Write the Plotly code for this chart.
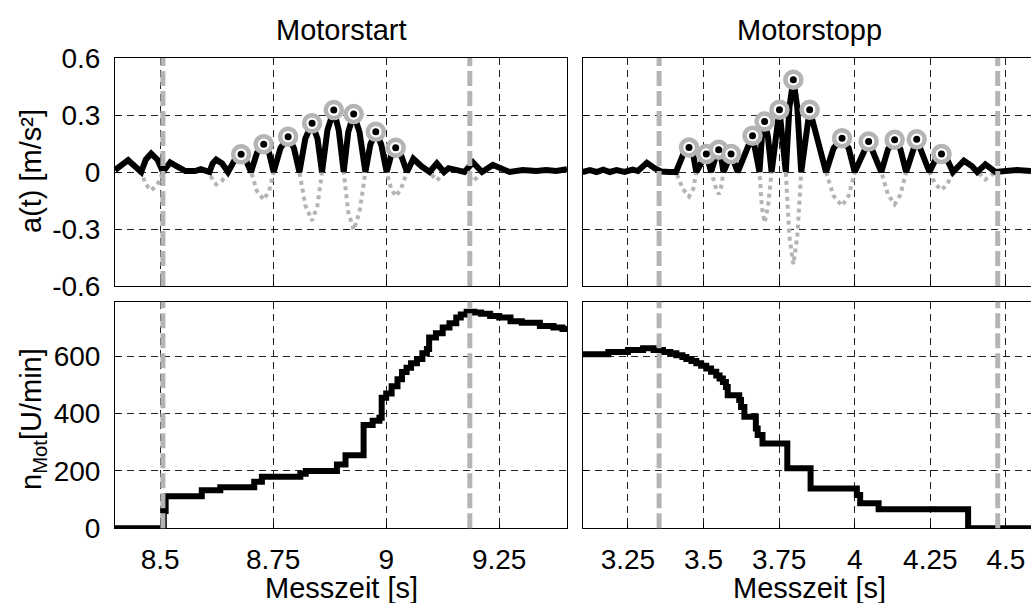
import plotly.graph_objects as go

FONT = "Liberation Sans, Arial, sans-serif"
W, H = 1031, 603

# ---- acceleration a(t) around engine start (signed, m/s²)
start_t = [8.400, 8.429, 8.458, 8.468, 8.480, 8.494, 8.506, 8.522, 8.537, 8.556, 8.577, 8.590, 8.609,
           8.616, 8.624, 8.637, 8.650, 8.664, 8.679, 8.690, 8.701, 8.714, 8.729, 8.741, 8.751,
           8.766, 8.783, 8.796, 8.808, 8.821, 8.836, 8.848, 8.858, 8.870, 8.884, 8.895, 8.906,
           8.916, 8.928, 8.941, 8.954, 8.965, 8.977, 8.989, 9.001, 9.011, 9.021, 9.033, 9.046,
           9.060, 9.078, 9.096, 9.112, 9.128, 9.138, 9.155, 9.173, 9.192, 9.212,
           9.236, 9.254, 9.273, 9.302, 9.332, 9.354, 9.376, 9.400]
start_a = [0.010, 0.062, 0.0, -0.065, -0.097, -0.065, 0.0, 0.050, 0.030, 0.005, 0.005, 0.015, 0.0,
           -0.045, -0.065, -0.045, 0.0, 0.060, 0.093, 0.060, 0.0, -0.100, -0.146, -0.100, 0.0,
           0.125, 0.186, 0.125, 0.0, -0.175, -0.256, -0.175, 0.0, 0.220, 0.326, 0.220, 0.0,
           -0.210, -0.305, -0.210, 0.0, 0.145, 0.212, 0.145, 0.0, -0.088, -0.128, -0.088, 0.0,
           0.070, 0.030, 0.0, -0.045, 0.0, 0.020, 0.010, 0.0, -0.050, 0.0,
           0.037, 0.015, 0.0, 0.010, 0.005, 0.010, 0.005, 0.015]
start_peak_t = [8.679, 8.729, 8.783, 8.836, 8.884, 8.928, 8.977, 9.021]
start_peak_a = [0.093, 0.146, 0.186, 0.256, 0.326, 0.305, 0.212, 0.128]

# ---- acceleration a(t) around engine stop (signed, m/s²)
stop_t = [3.100, 3.124, 3.146, 3.168, 3.190, 3.212, 3.239, 3.266, 3.283, 3.3125, 3.338, 3.360, 3.387, 3.409,
          3.432, 3.452, 3.466, 3.476, 3.509, 3.525, 3.540, 3.550, 3.558, 3.566, 3.591, 3.613,
          3.662, 3.685, 3.693, 3.702, 3.713, 3.725, 3.751, 3.772, 3.784, 3.797, 3.810, 3.823,
          3.851, 3.905, 3.930, 3.958, 3.980, 4.000, 4.046, 4.088, 4.110, 4.132, 4.151, 4.170,
          4.205, 4.247, 4.267, 4.287, 4.306, 4.325,
          4.361, 4.388, 4.405, 4.432, 4.465, 4.487, 4.514, 4.536, 4.583]
stop_a = [0.0, 0.010, 0.0, 0.012, 0.0, 0.010, 0.0, 0.012, 0.005, 0.048, 0.020, 0.003, 0.0, 0.0,
          -0.090, -0.129, -0.090, 0.0, 0.095, 0.0, -0.080, -0.117, -0.080, 0.0, 0.095, 0.0,
          0.191, 0.0, -0.185, -0.266, -0.185, 0.0, 0.328, 0.0, -0.340, -0.486, -0.340, 0.0,
          0.328, 0.0, -0.125, -0.178, -0.125, 0.0, 0.161, 0.0, -0.120, -0.170, -0.120, 0.0,
          0.172, 0.0, -0.065, -0.095, -0.065, 0.0,
          0.060, 0.030, 0.0, -0.040, 0.0, 0.005, 0.005, 0.010, 0.005]
stop_peak_t = [3.452, 3.509, 3.550, 3.591, 3.662, 3.702, 3.751, 3.797, 3.851, 3.958, 4.046, 4.132, 4.205, 4.287]
stop_peak_a = [0.129, 0.095, 0.117, 0.095, 0.191, 0.266, 0.328, 0.486, 0.328, 0.178, 0.161, 0.170, 0.172, 0.095]

# ---- engine speed n_Mot (U/min), stepwise
start_nt = [8.400, 8.508, 8.512, 8.592, 8.633, 8.708, 8.725, 8.810, 8.822, 8.891, 8.910, 8.950, 8.970, 8.985,
            8.990, 9.000, 9.012, 9.025, 9.035, 9.045, 9.055, 9.068, 9.080, 9.090, 9.095, 9.110, 9.125, 9.140,
            9.155, 9.165, 9.178, 9.195, 9.210, 9.230, 9.250, 9.275, 9.300, 9.340, 9.370, 9.390, 9.400]
start_n = [0, 60, 112, 133, 143, 162, 180, 190, 200, 222, 255, 360, 375, 385,
           455, 470, 495, 520, 545, 560, 575, 590, 610, 625, 665, 680, 700, 715,
           735, 745, 755, 752, 748, 740, 735, 722, 717, 705, 700, 695, 690]
stop_nt = [3.100, 3.185, 3.250, 3.300, 3.335, 3.366, 3.390, 3.410, 3.430, 3.443, 3.460, 3.476, 3.492, 3.509,
           3.525, 3.542, 3.553, 3.564, 3.574, 3.580, 3.618, 3.624, 3.635, 3.673, 3.679, 3.695, 3.777, 3.854,
           4.007, 4.018, 4.079, 4.375, 4.583]
stop_n = [607, 615, 622, 628, 622, 615, 610, 603, 597, 590, 583, 575, 567, 557,
          546, 533, 522, 510, 493, 464, 447, 423, 389, 348, 325, 296, 209, 139,
          116, 87, 66, 0, 0]

# ---- event markers (s)
start_events = [8.506, 9.185]
stop_events = [3.353, 4.473]

# ---- axes ticks
start_ticks = [8.5, 8.75, 9, 9.25]
start_ticktext = ["8.5", "8.75", "9", "9.25"]
stop_ticks = [3.25, 3.5, 3.75, 4, 4.25, 4.5]
stop_ticktext = ["3.25", "3.5", "3.75", "4", "4.25", "4.5"]
acc_ticks = [-0.6, -0.3, 0, 0.3, 0.6]
acc_ticktext = ["-0.6", "-0.3", "0", "0.3", "0.6"]
n_ticks = [0, 200, 400, 600]
n_ticktext = ["0", "200", "400", "600"]

BLACK = "#000000"
GRAY = "#b4b4b4"

fig = go.Figure()


def acc_panel(t, a, pt, pa, xa, ya):
    # raw signal (dotted gray), rectified signal (black), peak rings + centre dots
    fig.add_trace(go.Scatter(x=t, y=a, mode="lines", xaxis=xa, yaxis=ya,
                             line=dict(color=GRAY, width=4, dash="dot"), hoverinfo="skip"))
    fig.add_trace(go.Scatter(x=t, y=[abs(v) for v in a], mode="lines", xaxis=xa, yaxis=ya,
                             line=dict(color=BLACK, width=6), hoverinfo="skip"))
    fig.add_trace(go.Scatter(x=pt, y=pa, mode="markers", xaxis=xa, yaxis=ya,
                             marker=dict(symbol="circle", size=16, color="white",
                                         line=dict(color=GRAY, width=4.5)), hoverinfo="skip"))
    fig.add_trace(go.Scatter(x=pt, y=pa, mode="markers", xaxis=xa, yaxis=ya,
                             marker=dict(symbol="circle", size=7, color=BLACK), hoverinfo="skip"))


acc_panel(start_t, start_a, start_peak_t, start_peak_a, "x", "y")
acc_panel(stop_t, stop_a, stop_peak_t, stop_peak_a, "x2", "y2")

fig.add_trace(go.Scatter(x=start_nt, y=start_n, mode="lines", line_shape="hv", xaxis="x3", yaxis="y3",
                         line=dict(color=BLACK, width=6), hoverinfo="skip"))
fig.add_trace(go.Scatter(x=stop_nt, y=stop_n, mode="lines", line_shape="hv", xaxis="x4", yaxis="y4",
                         line=dict(color=BLACK, width=6), hoverinfo="skip"))

# event lines, per panel
for xa, ya, evs in [("x", "y", start_events), ("x3", "y3", start_events),
                    ("x2", "y2", stop_events), ("x4", "y4", stop_events)]:
    for e in evs:
        fig.add_shape(type="line", xref=xa, yref=ya + " domain", x0=e, x1=e, y0=0, y1=1,
                      line=dict(color=GRAY, width=5, dash="15px,5px"), layer="above")

left_dom = [115 / W, 567 / W]
right_dom = [582.6 / W, 1.0]
top_dom = [1 - 286 / H, 1 - 58 / H]
bot_dom = [1 - 528.3 / H, 1 - 301.7 / H]

GRID = dict(showgrid=True, gridcolor="#222222", gridwidth=1, griddash="7px,5px",
            zeroline=False, showline=True, linecolor=BLACK, linewidth=1,
            ticks="inside", ticklen=5, tickcolor=BLACK,
            tickfont=dict(family=FONT, size=28, color=BLACK))

fig.update_layout(
    width=W, height=H, autosize=False,
    margin=dict(l=0, r=0, t=0, b=0, autoexpand=False),
    paper_bgcolor="white", plot_bgcolor="white", showlegend=False,
    xaxis=dict(GRID, domain=left_dom, anchor="y", range=[8.4, 9.4], tickvals=start_ticks,
               showticklabels=False, mirror=True),
    xaxis2=dict(GRID, domain=right_dom, anchor="y2", range=[3.1, 4.583], tickvals=stop_ticks,
                showticklabels=False, mirror=True),
    xaxis3=dict(GRID, domain=left_dom, anchor="y3", range=[8.4, 9.4], tickvals=start_ticks,
                ticktext=start_ticktext, mirror=True, ticklabelstandoff=6),
    xaxis4=dict(GRID, domain=right_dom, anchor="y4", range=[3.1, 4.583], tickvals=stop_ticks,
                ticktext=stop_ticktext, mirror=True, ticklabelstandoff=6),
    yaxis=dict(GRID, domain=top_dom, anchor="x", range=[-0.6, 0.6], tickvals=acc_ticks,
               ticktext=acc_ticktext, mirror=True, ticklabelstandoff=8),
    yaxis2=dict(GRID, domain=top_dom, anchor="x2", range=[-0.6, 0.6], tickvals=acc_ticks,
                showticklabels=False),
    yaxis3=dict(GRID, domain=bot_dom, anchor="x3", range=[0, 790], tickvals=n_ticks,
                ticktext=n_ticktext, mirror=True, ticklabelstandoff=8),
    yaxis4=dict(GRID, domain=bot_dom, anchor="x4", range=[0, 790], tickvals=n_ticks,
                showticklabels=False),
)

LBL = dict(family=FONT, size=29, color=BLACK)
ann = [
    dict(text="Motorstart", x=341 / W, y=1 - 30 / H),
    dict(text="Motorstopp", x=809 / W, y=1 - 30 / H),
    dict(text="Messzeit [s]", x=341 / W, y=1 - 588 / H),
    dict(text="Messzeit [s]", x=809 / W, y=1 - 588 / H),
    dict(text="a(t) [m/s²]", x=31 / W, y=1 - 171 / H, textangle=-90),
    dict(text="n<sub>Mot</sub>[U/min]", x=33 / W, y=1 - 419 / H, textangle=-90),
]
for a in ann:
    fig.add_annotation(xref="paper", yref="paper", showarrow=False, xanchor="center",
                       yanchor="middle", font=LBL, **a)

fig.write_html("out.html")
